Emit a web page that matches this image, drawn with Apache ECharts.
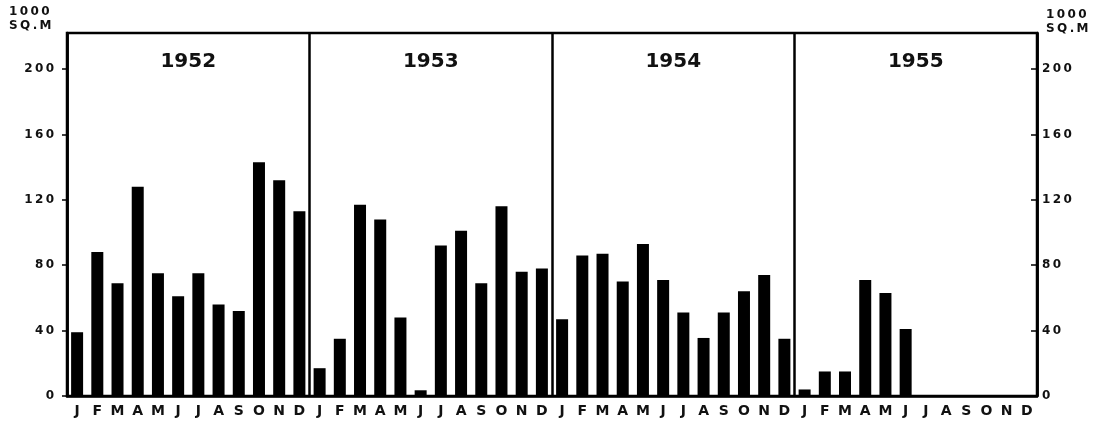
<!DOCTYPE html>
<html>
<head>
<meta charset="utf-8">
<title>Monthly area, 1952-1955</title>
<script src="https://cdn.jsdelivr.net/npm/echarts@6/dist/echarts.min.js"></script>
<style>
  html, body { margin: 0; padding: 0; background: #fff; }
  #chart { width: 1096px; height: 423px; }
</style>
</head>
<body>
<div id="chart"></div>
<script>
// data (thousand sq. m per month)
var years = ['1952', '1953', '1954', '1955']
var months = ['J', 'F', 'M', 'A', 'M', 'J', 'J', 'A', 'S', 'O', 'N', 'D']
var values1952 = [39, 88, 69, 128, 75, 61, 75, 56, 52, 143, 132, 113]
var values1953 = [17, 35, 117, 108, 48, 3.5, 92, 101, 69, 116, 76, 78]
var values1954 = [47, 86, 87, 70, 93, 71, 51, 35.5, 51, 64, 74, 35]
var values1955 = [4, 15, 15, 71, 63, 41, null, null, null, null, null, null]
var yTicks = [0, 40, 80, 120, 160, 200]
var unitLines = ['1000', 'SQ.M']

var categories = []
years.forEach(function () { categories = categories.concat(months) })
var seriesData = values1952.concat(values1953, values1954, values1955)

var font = 'DejaVu Sans'
// the original lettering is widely spaced
var spread = function (s) { return String(s).split('').join('\u2009') }
var spaced = function (v) {
  return yTicks.indexOf(v) < 0 ? '' : spread(v)
}
var unitText = unitLines.map(spread).join('\n')
var unitStyle = { fontFamily: font, fontSize: 12, fontWeight: 'bold', color: '#111', lineHeight: 14 }

var chart = echarts.init(document.getElementById('chart'))
chart.setOption({
  animation: false,
  backgroundColor: '#fff',
  title: [
    { text: unitText, left: 4, top: 0, textStyle: unitStyle },
    { text: unitText, left: 1041, top: 3, textStyle: unitStyle }
  ],
  grid: {
    left: 67,
    right: 59,
    top: 33,
    bottom: 27,
    show: true,
    borderColor: '#000',
    borderWidth: 2.5
  },
  xAxis: [
    {
      type: 'category',
      data: categories,
      position: 'bottom',
      axisLine: { show: true, lineStyle: { color: '#000', width: 2.5 } },
      axisTick: { show: false },
      axisLabel: {
        interval: 0,
        margin: 8,
        color: '#111',
        fontFamily: font,
        fontSize: 14,
        fontWeight: 'bold'
      }
    },
    {
      // year dividers
      type: 'value',
      min: 0,
      max: 48,
      interval: 12,
      position: 'top',
      axisLine: { show: false },
      axisTick: { show: false },
      axisLabel: { show: false },
      splitLine: { show: true, lineStyle: { color: '#000', width: 2.5 } }
    },
    {
      // year titles
      type: 'category',
      data: years,
      position: 'top',
      axisLine: { show: false },
      axisTick: { show: false },
      axisLabel: {
        inside: true,
        margin: 19,
        color: '#111',
        fontFamily: font,
        fontSize: 20,
        fontWeight: 'bold'
      }
    }
  ],
  yAxis: [
    {
      type: 'value',
      min: 0,
      max: 222,
      interval: 40,
      position: 'left',
      splitLine: { show: false },
      axisLine: { show: true, lineStyle: { color: '#000', width: 2.5 } },
      axisTick: { show: true, length: 5, lineStyle: { color: '#000', width: 1.5 } },
      axisLabel: {
        showMaxLabel: false,
        margin: 13,
        color: '#111',
        fontFamily: font,
        fontSize: 12,
        fontWeight: 'bold',
        formatter: spaced
      }
    },
    {
      type: 'value',
      min: 0,
      max: 222,
      interval: 40,
      position: 'right',
      splitLine: { show: false },
      axisLine: { show: true, lineStyle: { color: '#000', width: 2.5 } },
      axisTick: { show: true, inside: true, length: 6, lineStyle: { color: '#000', width: 1.5 } },
      axisLabel: {
        showMaxLabel: false,
        margin: 5,
        color: '#111',
        fontFamily: font,
        fontSize: 12,
        fontWeight: 'bold',
        formatter: spaced
      }
    }
  ],
  series: [
    {
      name: 'area',
      type: 'bar',
      xAxisIndex: 0,
      yAxisIndex: 0,
      barWidth: 12,
      itemStyle: { color: '#000' },
      data: seriesData
    }
  ]
})
</script>
</body>
</html>
